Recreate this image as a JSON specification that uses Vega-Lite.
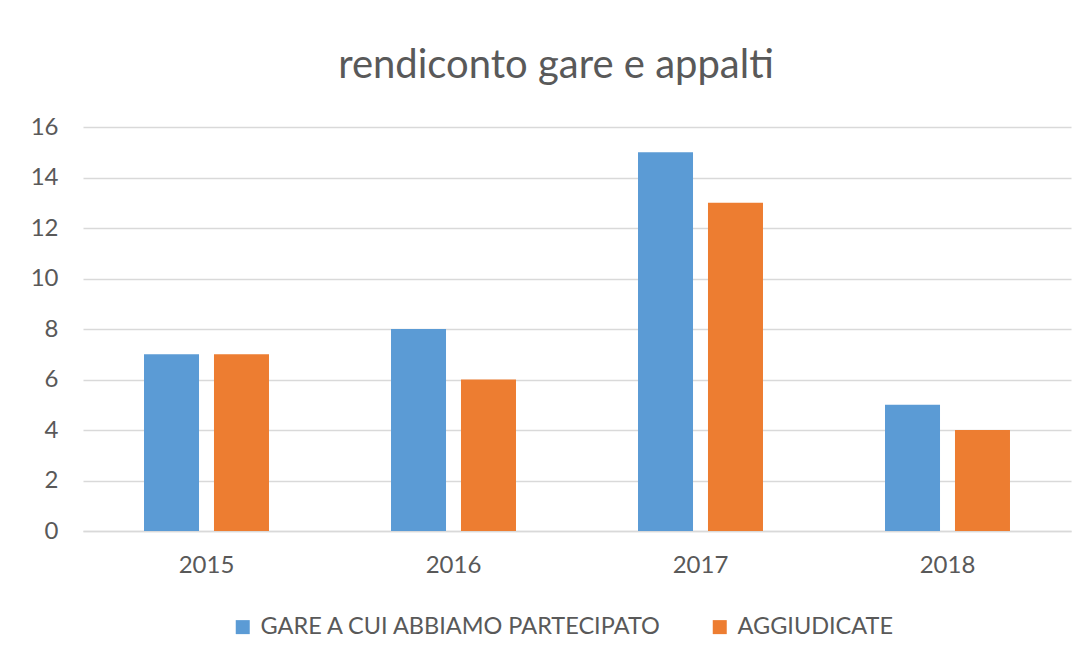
{
  "$schema": "https://vega.github.io/schema/vega-lite/v6.json",
  "autosize": {"type": "none"},
  "width": 988,
  "height": 404,
  "padding": {"left": 83, "top": 127, "right": 21, "bottom": 132},
  "background": "white",
  "title": {
    "text": "rendiconto gare e appalti",
    "font": "Lato",
    "fontSize": 40,
    "fontWeight": "normal",
    "color": "#595959",
    "anchor": "middle",
    "frame": "group",
    "baseline": "alphabetic",
    "offset": 47,
    "dy": 50,
    "dx": -21
  },
  "data": {
    "values": [
      {"anno": "2015", "serie": "GARE A CUI ABBIAMO PARTECIPATO", "valore": 7},
      {"anno": "2015", "serie": "AGGIUDICATE", "valore": 7},
      {"anno": "2016", "serie": "GARE A CUI ABBIAMO PARTECIPATO", "valore": 8},
      {"anno": "2016", "serie": "AGGIUDICATE", "valore": 6},
      {"anno": "2017", "serie": "GARE A CUI ABBIAMO PARTECIPATO", "valore": 15},
      {"anno": "2017", "serie": "AGGIUDICATE", "valore": 13},
      {"anno": "2018", "serie": "GARE A CUI ABBIAMO PARTECIPATO", "valore": 5},
      {"anno": "2018", "serie": "AGGIUDICATE", "valore": 4}
    ]
  },
  "mark": {"type": "bar"},
  "encoding": {
    "x": {
      "field": "anno",
      "type": "nominal",
      "scale": {"paddingInner": 0.494, "paddingOuter": 0.247},
      "axis": {
        "title": null,
        "labelAngle": 0,
        "labelFont": "Lato",
        "labelFontSize": 24,
        "labelColor": "#595959",
        "labelPadding": 22,
        "ticks": false,
        "domain": true,
        "domainColor": "#d9d9d9",
        "domainWidth": 1.5
      }
    },
    "xOffset": {
      "field": "serie",
      "type": "nominal",
      "sort": ["GARE A CUI ABBIAMO PARTECIPATO", "AGGIUDICATE"],
      "scale": {"paddingInner": 0.214, "paddingOuter": 0}
    },
    "y": {
      "field": "valore",
      "type": "quantitative",
      "scale": {"domain": [0, 16], "nice": false},
      "axis": {
        "title": null,
        "values": [0, 2, 4, 6, 8, 10, 12, 14, 16],
        "labelFont": "Lato",
        "labelFontSize": 24,
        "labelColor": "#595959",
        "labelPadding": 25,
        "ticks": false,
        "domain": false,
        "grid": true,
        "gridColor": "#d9d9d9",
        "gridWidth": 1.5
      }
    },
    "color": {
      "field": "serie",
      "type": "nominal",
      "sort": ["GARE A CUI ABBIAMO PARTECIPATO", "AGGIUDICATE"],
      "scale": {
        "domain": ["GARE A CUI ABBIAMO PARTECIPATO", "AGGIUDICATE"],
        "range": ["#5b9bd5", "#ed7d31"]
      },
      "legend": {
        "title": null,
        "orient": "none",
        "direction": "horizontal",
        "legendX": 148,
        "legendY": 488,
        "symbolType": "square",
        "symbolSize": 196,
        "symbolStrokeWidth": 0,
        "symbolOpacity": 1,
        "labelFont": "Lato",
        "labelFontSize": 23.5,
        "labelColor": "#595959",
        "labelOffset": 6,
        "labelLimit": 600,
        "columnPadding": 45
      }
    }
  },
  "config": {
    "view": {"stroke": null}
  }
}
